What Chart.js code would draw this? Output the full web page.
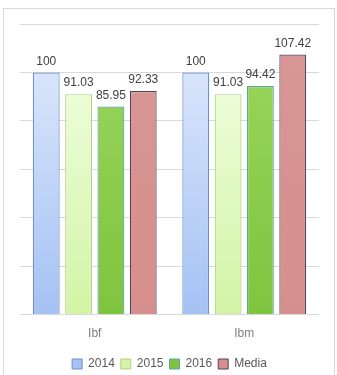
<!DOCTYPE html>
<html>
<head>
<meta charset="utf-8">
<script src="https://cdn.jsdelivr.net/npm/chart.js@4/dist/chart.umd.min.js"></script>
<style>
  html, body { margin: 0; padding: 0; background: #fff; }
  #wrap { position: relative; width: 337px; height: 375px; }
  #frame { position: absolute; left: 3px; top: 8px; width: 332px; height: 372px; border: 1px solid #d9d9d9; box-sizing: border-box; }
  canvas { position: absolute; left: 0; top: 0; }
</style>
</head>
<body>
<div id="wrap">
  <div id="frame"></div>
  <canvas id="myChart" width="337" height="375"></canvas>
</div>
<script>
// categories and series
var categories = ['Ibf', 'Ibm'];
var seriesNames = ['2014', '2015', '2016', 'Media'];
var values2014 = [100, 100];
var values2015 = [91.03, 91.03];
var values2016 = [85.95, 94.42];
var valuesMedia = [92.33, 107.42];

// top colour, bottom colour, border colour
var palette = [
  ['#e2ebfc', '#a5c2f4', '#6b8fcf'],
  ['#f3ffe6', '#d3f4a6', '#b2d186'],
  ['#9cd75e', '#7fc43f', '#5ea7a0'],
  ['#d99795', '#d68f8d', '#4f4562']
];

function gradientFor(idx) {
  return function(context) {
    var chart = context.chart;
    var area = chart.chartArea;
    if (!area) return palette[idx][1];
    var g = chart.ctx.createLinearGradient(0, area.top, 0, area.bottom);
    g.addColorStop(0, palette[idx][0]);
    g.addColorStop(1, palette[idx][1]);
    return g;
  };
}

var valueLabels = {
  id: 'valueLabels',
  afterDatasetsDraw: function(chart) {
    var ctx = chart.ctx;
    ctx.save();
    ctx.font = '12px "Liberation Sans", Arial, sans-serif';
    ctx.fillStyle = '#404040';
    ctx.textAlign = 'center';
    ctx.textBaseline = 'bottom';
    chart.data.datasets.forEach(function(ds, i) {
      chart.getDatasetMeta(i).data.forEach(function(bar, j) {
        ctx.fillText(String(ds.data[j]), bar.x, bar.y - 5);
      });
    });
    ctx.restore();
  }
};

window.onload = function() {
  var ctx = document.getElementById('myChart').getContext('2d');
  var allSeries = [values2014, values2015, values2016, valuesMedia];

  var datasets = [];
  for (var i = 0; i < seriesNames.length; i++) {
    datasets.push({
      label: seriesNames[i],
      data: allSeries[i],
      backgroundColor: gradientFor(i),
      borderColor: palette[i][2],
      borderWidth: 1.2,
      categoryPercentage: 0.865,
      barPercentage: 0.83
    });
  }

  var chart = new Chart(ctx, {
    type: 'bar',
    data: { labels: categories, datasets: datasets },
    options: {
      responsive: false,
      animation: false,
      layout: { padding: { left: 20, right: 18, top: 24, bottom: -5 } },
      plugins: {
        tooltip: { enabled: false },
        legend: {
          position: 'bottom',
          labels: {
            boxWidth: 10,
            boxHeight: 10,
            padding: 6,
            color: '#595959',
            font: { size: 12, family: '"Liberation Sans", Arial, sans-serif' },
            generateLabels: function(c) {
              return c.data.datasets.map(function(ds, i) {
                return {
                  text: ds.label,
                  fillStyle: palette[i][1],
                  strokeStyle: palette[i][2],
                  lineWidth: 1,
                  datasetIndex: i,
                  fontColor: '#595959'
                };
              });
            }
          }
        }
      },
      scales: {
        x: {
          grid: { display: false },
          border: { display: false },
          ticks: { color: '#7f7f7f', font: { size: 12, family: '"Liberation Sans", Arial, sans-serif' }, padding: 4 },
          afterFit: function(scale) { scale.height += 7; }
        },
        y: {
          min: 0,
          max: 120,
          ticks: { display: false, stepSize: 20 },
          border: { display: false },
          grid: { color: '#d9d9d9', drawTicks: false }
        }
      }
    },
    plugins: [valueLabels]
  });
};
</script>
</body>
</html>
